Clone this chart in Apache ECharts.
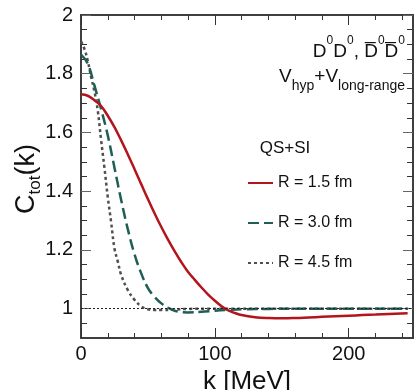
<!DOCTYPE html>
<html>
<head>
<meta charset="utf-8">
<script src="https://cdn.jsdelivr.net/npm/echarts@6/dist/echarts.min.js"></script>
<style>
  html, body { margin: 0; padding: 0; background: #fff; }
  #chart { width: 419px; height: 390px; }
</style>
</head>
<body>
<div id="chart"></div>
<script>
// values
const kRed = [0, 5, 10, 15, 20, 25, 30, 35, 40, 45, 50, 55, 60, 65, 70, 75, 80, 85, 90, 95, 100, 105, 110, 115, 120, 130, 140, 150, 160, 170, 180, 190, 200, 210, 220, 230, 244];
const cRed = [1.73, 1.725, 1.71, 1.69, 1.657, 1.618, 1.573, 1.525, 1.475, 1.424, 1.373, 1.324, 1.278, 1.235, 1.195, 1.158, 1.125, 1.098, 1.072, 1.048, 1.027, 1.008, 0.994, 0.985, 0.978, 0.971, 0.968, 0.967, 0.968, 0.970, 0.972, 0.974, 0.976, 0.978, 0.980, 0.982, 0.984];

const kGreen = [0, 5, 10, 15, 20, 25, 30, 35, 40, 45, 50, 55, 60, 65, 70, 75, 80, 90, 100, 110, 120, 140, 160, 200, 244];
const cGreen = [1.865, 1.835, 1.76, 1.68, 1.59, 1.48, 1.37, 1.27, 1.185, 1.12, 1.07, 1.04, 1.018, 1.003, 0.993, 0.988, 0.987, 0.989, 0.993, 0.996, 0.998, 0.999, 1.0, 1.0, 1.0];

const kGrey = [0, 2.5, 5, 7.5, 10, 12.5, 15, 17.5, 20, 22.5, 25, 27.5, 30, 35, 40, 45, 50, 55, 60, 70, 80, 100, 140, 200, 244];
const cGrey = [1.91, 1.885, 1.845, 1.79, 1.74, 1.675, 1.575, 1.48, 1.38, 1.295, 1.205, 1.16, 1.115, 1.063, 1.03, 1.008, 0.998, 0.995, 0.995, 0.997, 0.999, 1.0, 1.0, 1.0, 1.0];

const seriesNames = ["R = 1.5 fm", "R = 3.0 fm", "R = 4.5 fm"];
const refValue = 1;

const xMajor = [0, 100, 200];
const xMinor = [20, 40, 60, 80, 120, 140, 160, 180, 220, 240];
const yMajor = [1, 1.2, 1.4, 1.6, 1.8, 2];
const yMinor = [0.95, 1.05, 1.1, 1.15, 1.25, 1.3, 1.35, 1.45, 1.5, 1.55, 1.65, 1.7, 1.75, 1.85, 1.9, 1.95];

const FONT = "Liberation Sans, Arial, sans-serif";
const INK = "#111";
// outerBoundsMode none: v6 would otherwise shrink the labelled grid and the frames would drift apart
const GRID = { left: 81, right: 6, top: 15, bottom: 52, outerBoundsMode: "none", containLabel: false };

const xr = [0, 248];
const yr = [0.9, 2];

function pairs(xs, ys) {
  return xs.map((x, i) => [x, ys[i]]);
}

// one axis per side per grid: ECharts moves a second axis that asks for an occupied side
function axis(gridIndex, range, pos, ticks, len, tickColor, label) {
  return {
    type: "value", gridIndex, position: pos, min: range[0], max: range[1],
    axisLine: { show: true, onZero: false, lineStyle: { color: "#333", width: 1.5 } },
    axisTick: { show: true, inside: true, length: len, customValues: ticks, lineStyle: { color: tickColor, width: 1 } },
    axisLabel: label ? Object.assign({ color: INK, fontSize: 20, fontFamily: FONT }, label) : { show: false },
    splitLine: { show: false },
  };
}

const chart = echarts.init(document.getElementById("chart"), null, { renderer: "canvas" });

// empty series keep the tick-only grids alive
const tickHolders = [1, 2, 3].map((i) => ({
  type: "line", xAxisIndex: i, yAxisIndex: i, data: [], silent: true,
}));

chart.setOption({
  backgroundColor: "#fff",
  animation: false,
  grid: [GRID, GRID, GRID, GRID],
  xAxis: [
    Object.assign(axis(0, xr, "bottom", xMajor, 10, "#333", { customValues: xMajor, margin: 6 }), {
      name: "k [MeV]", nameLocation: "middle", nameGap: 28,
      nameTextStyle: { color: INK, fontSize: 26, fontFamily: FONT },
    }),
    axis(1, xr, "top", xMajor, 10, "#333", null),
    axis(2, xr, "bottom", xMinor, 5, "#333", null),
    axis(3, xr, "top", xMinor, 5, "#333", null),
  ],
  yAxis: [
    axis(0, yr, "left", yMajor, 10, "#666", {
      customValues: yMajor, margin: 8,
      formatter: (v) => (Math.abs(v - 1) < 1e-9 || Math.abs(v - 2) < 1e-9 ? String(Math.round(v)) : v.toFixed(1)),
    }),
    axis(1, yr, "right", yMajor, 10, "#666", null),
    axis(2, yr, "left", yMinor, 6, "#333", null),
    axis(3, yr, "right", yMinor, 6, "#333", null),
  ],
  legend: {
    data: seriesNames,
    orient: "vertical",
    left: 242,
    top: 170,
    itemWidth: 25,
    itemHeight: 14,
    itemGap: 24,
    itemStyle: { opacity: 0 },
    textStyle: { color: INK, fontSize: 16, fontFamily: FONT },
  },
  graphic: [
    {
      type: "text", x: 27, y: 179, rotation: Math.PI / 2,
      style: {
        text: "{m|C}{s|tot}{m|(k)}", textAlign: "center", textVerticalAlign: "middle",
        rich: {
          m: { fontSize: 27, fontFamily: FONT, fill: INK, lineHeight: 34, verticalAlign: "middle" },
          s: { fontSize: 17, fontFamily: FONT, fill: INK, lineHeight: 34, verticalAlign: "bottom" },
        },
      },
    },
    {
      type: "text", x: 405, y: 48,
      style: {
        text: "{m|D}{p|0}{m|D}{p|0}{m|, D\u0305}{p|0}{m|D\u0305}{p|0}", textAlign: "right", textVerticalAlign: "middle",
        rich: {
          m: { fontSize: 19, fontFamily: FONT, fill: INK, lineHeight: 26, verticalAlign: "bottom" },
          p: { fontSize: 12, fontFamily: FONT, fill: INK, lineHeight: 26, verticalAlign: "top" },
        },
      },
    },
    {
      type: "text", x: 405, y: 80,
      style: {
        text: "{m|V}{s|hyp}{m|+V}{s|long-range}", textAlign: "right", textVerticalAlign: "middle",
        rich: {
          m: { fontSize: 19, fontFamily: FONT, fill: INK, lineHeight: 26, verticalAlign: "top" },
          s: { fontSize: 14, fontFamily: FONT, fill: INK, lineHeight: 26, verticalAlign: "bottom" },
        },
      },
    },
    {
      type: "text", x: 285, y: 148,
      style: {
        text: "QS+SI", textAlign: "center", textVerticalAlign: "middle",
        fontSize: 17, fontFamily: FONT, fill: INK,
      },
    },
  ],
  series: [
    {
      name: seriesNames[0], type: "line", xAxisIndex: 0, yAxisIndex: 0,
      data: pairs(kRed, cRed), showSymbol: false, symbol: "none", smooth: 0.4,
      lineStyle: { color: "#b3141d", width: 2.5 }, itemStyle: { color: "#b3141d" },
      markLine: {
        silent: true, symbol: "none", label: { show: false },
        lineStyle: { color: "#222", width: 1.2, type: [2, 2] },
        data: [{ yAxis: refValue }],
      },
      z: 4,
    },
    {
      name: seriesNames[1], type: "line", xAxisIndex: 0, yAxisIndex: 0,
      data: pairs(kGreen, cGreen), showSymbol: false, symbol: "none", smooth: 0.4,
      lineStyle: { color: "#1f5e55", width: 2.5, type: [11, 5] }, itemStyle: { color: "#1f5e55" },
      z: 3,
    },
    {
      name: seriesNames[2], type: "line", xAxisIndex: 0, yAxisIndex: 0,
      data: pairs(kGrey, cGrey), showSymbol: false, symbol: "none", smooth: 0.4,
      lineStyle: { color: "#4f4f4f", width: 2.5, type: [3, 3] }, itemStyle: { color: "#4f4f4f" },
      z: 2,
    },
  ].concat(tickHolders),
});
</script>
</body>
</html>
